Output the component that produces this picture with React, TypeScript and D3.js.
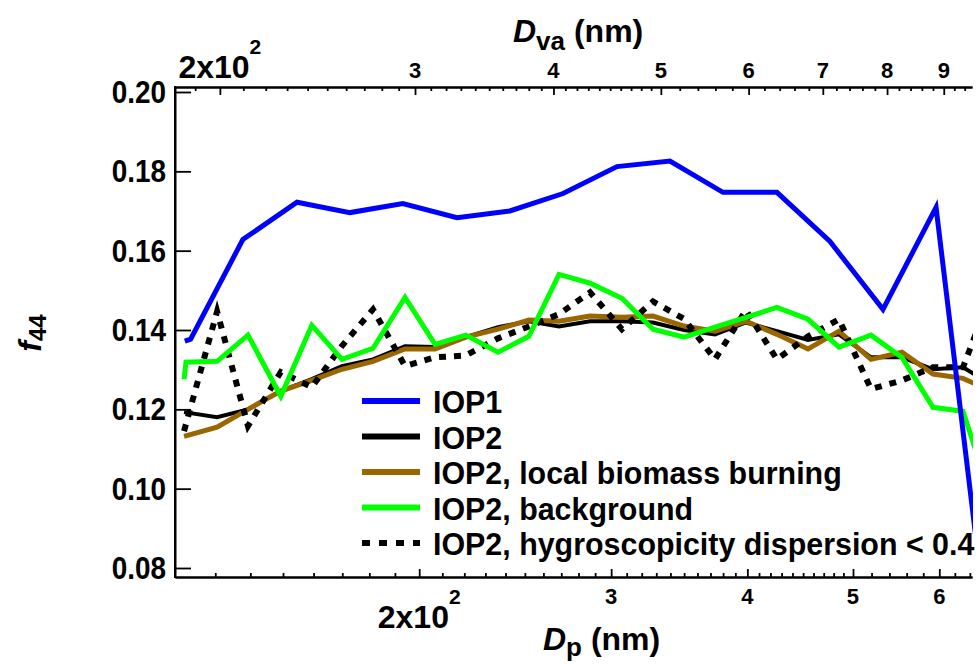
import React, { useEffect, useRef } from "react";
import * as d3 from "d3";

// IOP1 size bins (mobility diameter, nm) and f44
const iop1Dp = [121.9, 123.4, 137.8, 154.5, 172.8, 193.2, 216.6, 242.2, 271.0, 303.7, 339.7, 379.9, 425.8, 476.3, 532.7, 595.9, 667.8];
const iop1F44 = [0.1372, 0.1377, 0.1628, 0.1722, 0.1696, 0.1719, 0.1683, 0.17, 0.1744, 0.1812, 0.1826, 0.1747, 0.1747, 0.1623, 0.1452, 0.1709, 0.058];

// IOP2 size bins
const iop2Dp = [121.7, 130.5, 139.3, 149.3, 159.4, 169.9, 181.4, 194.1, 206.8, 220.7, 236.2, 252.1, 268.7, 286.9, 306.9, 327.7, 349.9, 373.6, 398.8, 425.8, 454.7, 485.4, 519.4, 554.5, 592.1, 630.8, 673.5];
const iop2F44 = [0.1193, 0.118, 0.12, 0.1246, 0.1276, 0.1309, 0.1326, 0.1359, 0.1357, 0.1382, 0.1407, 0.1422, 0.1409, 0.1422, 0.1422, 0.1419, 0.14, 0.1389, 0.1419, 0.1397, 0.1375, 0.1389, 0.1331, 0.1331, 0.1301, 0.1306, 0.1258];
const biomassF44 = [0.1132, 0.1155, 0.12, 0.1246, 0.1273, 0.1301, 0.1321, 0.1352, 0.1352, 0.1382, 0.1402, 0.1425, 0.1422, 0.1435, 0.1432, 0.1435, 0.141, 0.1397, 0.1422, 0.1389, 0.1352, 0.1397, 0.1326, 0.1344, 0.1289, 0.1278, 0.1243];
const lowDispF44 = [0.1145, 0.1447, 0.1158, 0.1294, 0.1256, 0.136, 0.1452, 0.1309, 0.1331, 0.1336, 0.1379, 0.1409, 0.144, 0.1495, 0.1402, 0.1472, 0.1428, 0.1326, 0.145, 0.1326, 0.1384, 0.1427, 0.1251, 0.1273, 0.1306, 0.1306, 0.151];

// background has one extra bin at the start
const backgroundDp = [121.7, 122.2, 130.5, 139.3, 149.3, 159.4, 169.9, 181.4, 194.1, 206.8, 220.7, 236.2, 252.1, 268.7, 286.9, 306.9, 327.7, 349.9, 373.6, 398.8, 425.8, 454.7, 485.4, 519.4, 554.5, 592.1, 630.8, 673.5];
const backgroundF44 = [0.1276, 0.1319, 0.1321, 0.1387, 0.1233, 0.1412, 0.1326, 0.1354, 0.1482, 0.1364, 0.1387, 0.1344, 0.1384, 0.154, 0.1518, 0.148, 0.1402, 0.1382, 0.1407, 0.1432, 0.1457, 0.1427, 0.1357, 0.1387, 0.1331, 0.1205, 0.1195, 0.0954];

// axes ticks
const yTicks = [0.08, 0.1, 0.12, 0.14, 0.16, 0.18, 0.2];
const dpMajor = [200, 300, 400, 500, 600];
const dpMinor = [130, 140, 150, 160, 170, 180, 190, 210, 220, 230, 240, 250, 260, 270, 280, 290, 310, 320, 330, 340, 350, 360, 370, 380, 390, 410, 420, 430, 440, 450, 460, 470, 480, 490, 520, 540, 560, 580, 620, 640];
const dvaMajor = [200, 300, 400, 500, 600, 700, 800, 900];
const dvaMinor = [190, 210, 220, 230, 240, 250, 260, 270, 280, 290, 310, 320, 330, 340, 350, 360, 370, 380, 390, 410, 420, 430, 440, 450, 460, 470, 480, 490, 520, 540, 560, 580, 620, 640, 660, 680, 720, 740, 760, 780, 820, 840, 860, 880, 920, 940];

const legendLabels = ["IOP1", "IOP2", "IOP2, local biomass burning", "IOP2, background", "IOP2, hygroscopicity dispersion < 0.4"];

const FONT = "'Liberation Sans', Arial, sans-serif";

const App = () => {
    const svgRef = useRef(null);

    useEffect(() => {
        const width = 980, height = 664;
        const left = 175, right = 972, top = 87, bottom = 577;

        const svg = d3.select(svgRef.current);
        svg.selectAll("*").remove();

        const x = d3.scaleLog().domain([119.4, 642.9]).range([left, right]);
        const xTop = d3.scaleLog().domain([182.2, 954.4]).range([left, right]);
        const y = d3.scaleLinear().domain([0.07773, 0.20126]).range([bottom, top]);

        const series = [
            { dp: iop2Dp, f: iop2F44, color: "#000000", w: 4, dash: null },
            { dp: iop2Dp, f: biomassF44, color: "#996600", w: 5, dash: null },
            { dp: iop2Dp, f: lowDispF44, color: "#000000", w: 6, dash: "7,8" },
            { dp: backgroundDp, f: backgroundF44, color: "#00ff00", w: 5, dash: null },
            { dp: iop1Dp, f: iop1F44, color: "#0000ff", w: 5, dash: null },
        ];

        svg.append("defs").append("clipPath").attr("id", "plotclip")
            .append("rect")
            .attr("x", left).attr("y", top)
            .attr("width", right - left + 1).attr("height", bottom - top);

        const line = d3.line().x(d => x(d[0])).y(d => y(d[1]));
        const plot = svg.append("g").attr("clip-path", "url(#plotclip)");
        series.forEach(s => {
            plot.append("path")
                .datum(s.dp.map((d, i) => [d, s.f[i]]))
                .attr("d", line)
                .attr("fill", "none")
                .attr("stroke", s.color)
                .attr("stroke-width", s.w)
                .attr("stroke-linejoin", "miter")
                .attr("stroke-dasharray", s.dash);
        });

        // bottom axis (ticks point inward)
        const gB = svg.append("g").attr("transform", `translate(0,${bottom})`);
        gB.call(d3.axisTop(x).tickValues(dpMinor).tickSize(4).tickSizeOuter(0).tickFormat(() => ""));
        gB.append("g").call(d3.axisTop(x).tickValues(dpMajor).tickSize(8).tickSizeOuter(0).tickFormat(() => ""));

        // top axis
        const gT = svg.append("g").attr("transform", `translate(0,${top})`);
        gT.call(d3.axisBottom(xTop).tickValues(dvaMinor).tickSize(4).tickSizeOuter(0).tickFormat(() => ""));
        gT.append("g").call(d3.axisBottom(xTop).tickValues(dvaMajor).tickSize(8).tickSizeOuter(0).tickFormat(() => ""));

        // left axis
        const gL = svg.append("g").attr("transform", `translate(${left},0)`);
        gL.call(d3.axisRight(y).tickValues(yTicks).tickSize(16).tickSizeOuter(0).tickFormat(() => ""));

        svg.selectAll(".domain").attr("stroke", "#000").attr("stroke-width", 2);
        svg.selectAll(".tick line").attr("stroke", "#000").attr("stroke-width", 1.8);

        // left axis line spans whole frame
        svg.append("line")
            .attr("x1", left).attr("x2", left)
            .attr("y1", top - 1).attr("y2", bottom + 1)
            .attr("stroke", "#000").attr("stroke-width", 2);

        const txt = svg.append("g")
            .attr("font-family", FONT)
            .attr("font-weight", "bold")
            .attr("fill", "#000");

        // y tick labels (font is a bit condensed in the original)
        yTicks.forEach(t => {
            txt.append("text")
                .attr("transform", `translate(${left - 9},${y(t) + 11}) scale(0.9,1)`)
                .attr("text-anchor", "end")
                .attr("font-size", 31)
                .text(d3.format(".2f")(t));
        });

        // log tick labels: "2x10^2" for 200, single digit otherwise
        const logLabel = (g, px, base, v) => {
            if (v === 200) {
                const t = g.append("text")
                    .attr("x", px).attr("y", base)
                    .attr("text-anchor", "middle");
                t.append("tspan").attr("font-size", 32).text("2x10");
                t.append("tspan").attr("font-size", 21).attr("dy", -24).text("2");
            } else {
                g.append("text")
                    .attr("x", px).attr("y", base)
                    .attr("text-anchor", "middle")
                    .attr("font-size", 22)
                    .text(String(v / 100));
            }
        };
        dpMajor.forEach(v => logLabel(txt, x(v), v === 200 ? 628 : 604, v));
        dvaMajor.forEach(v => logLabel(txt, xTop(v), 78, v));

        // axis titles
        const topTitle = txt.append("text").attr("x", 513).attr("y", 42).attr("font-size", 32);
        topTitle.append("tspan").attr("font-style", "italic").text("D");
        topTitle.append("tspan").attr("font-size", 26).attr("dy", 8).text("va");
        topTitle.append("tspan").attr("dy", -8).text(" (nm)");

        const botTitle = txt.append("text").attr("x", 543).attr("y", 650).attr("font-size", 32);
        botTitle.append("tspan").attr("font-style", "italic").text("D");
        botTitle.append("tspan").attr("font-size", 26).attr("dy", 6).text("p");
        botTitle.append("tspan").attr("dy", -6).text(" (nm)");

        const yTitle = txt.append("text")
            .attr("transform", "translate(41,333) rotate(-90)")
            .attr("text-anchor", "middle")
            .attr("font-size", 32);
        yTitle.append("tspan").attr("font-style", "italic").text("f");
        yTitle.append("tspan").attr("font-size", 24).attr("dy", 5).text("44");

        // legend
        const legendColors = ["#0000ff", "#000000", "#996600", "#00ff00", "#000000"];
        const legendDash = [null, null, null, null, "8,9"];
        const rowY = d3.scalePoint().domain(legendLabels).range([401, 543]);
        const lg = svg.append("g");
        legendLabels.forEach((lab, i) => {
            lg.append("line")
                .attr("x1", 362).attr("x2", 420)
                .attr("y1", rowY(lab)).attr("y2", rowY(lab))
                .attr("stroke", legendColors[i])
                .attr("stroke-width", 6)
                .attr("stroke-dasharray", legendDash[i]);
            lg.append("text")
                .attr("transform", `translate(433,${rowY(lab) + 12}) scale(0.95,1)`)
                .attr("font-family", FONT)
                .attr("font-weight", "bold")
                .attr("font-size", 32)
                .text(lab);
        });

        svg.attr("width", width).attr("height", height);
    }, []);

    return (
        <svg ref={svgRef} width={980} height={664}
            style={{ position: "absolute", left: 0, top: 0, background: "#fff" }} />
    );
};

export default App;
